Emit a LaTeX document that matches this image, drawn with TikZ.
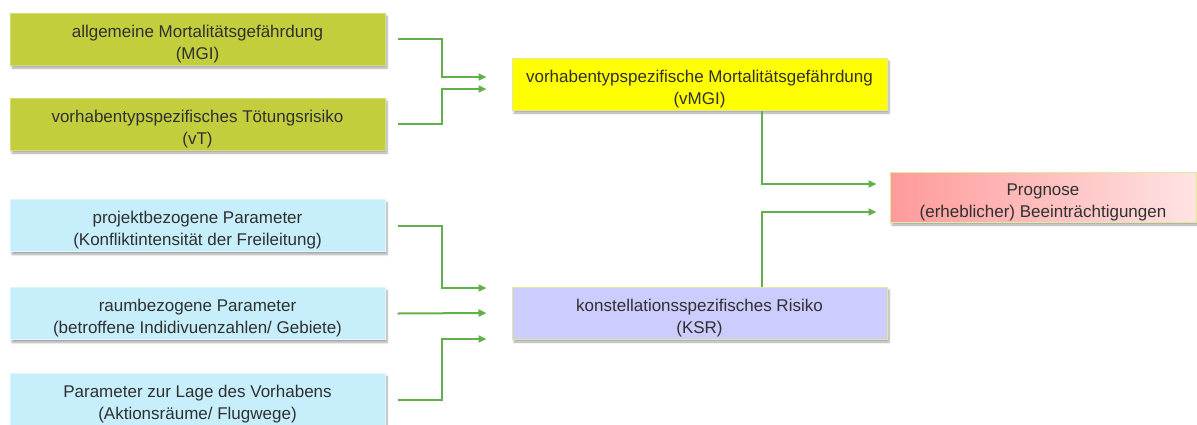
\documentclass[tikz,border=0pt]{standalone}
\usepackage{fontspec}
\setmainfont{Liberation Sans}
\usetikzlibrary{arrows.meta, shadows.blur}
\definecolor{mgiGreen}{HTML}{C3CE3D}
\definecolor{mgiEdge}{HTML}{D3DC78}
\definecolor{paramBlue}{HTML}{C6EEFB}
\definecolor{paramEdge}{HTML}{DDF6FD}
\definecolor{vmgiYellow}{HTML}{FFFF00}
\definecolor{ksrLilac}{HTML}{CCCCFF}
\definecolor{progRed}{HTML}{FF9A9A}
\definecolor{progPink}{HTML}{FFE3E3}
\definecolor{boxEdge}{HTML}{E2E99A}
\definecolor{linkGreen}{HTML}{62B04A}
\definecolor{txtGray}{HTML}{303030}

\tikzset{
    box/.style={rectangle, minimum width=375pt, minimum height=52pt,
        align=center, text=txtGray, line width=1pt, inner ysep=0pt,
        font=\fontsize{17}{22}\selectfont,
        execute at begin node={\rule{0pt}{44pt}},
        blur shadow={shadow xshift=2pt, shadow yshift=-3pt, shadow blur steps=6, shadow opacity=35}},
    factor/.style={box, fill=mgiGreen, draw=mgiEdge},
    param/.style={box, fill=paramBlue, draw=paramEdge},
    link/.style={draw=linkGreen, line width=2pt, -{Triangle[length=8pt,width=7pt]}}
}

\begin{document}
\begin{tikzpicture}[x=1pt, y=-1pt]
    \useasboundingbox (0,0) rectangle (1197,424);

    % inputs
    \node[factor] (mgi) at (197.5,39) {allgemeine Mortalitätsgefährdung\\(MGI)};
    \node[factor] (vt) at (197.5,124) {vorhabentypspezifisches Tötungsrisiko\\(vT)};

    \node[param] (proj) at (197.5,225.5) {projektbezogene Parameter\\(Konfliktintensität der Freileitung)};
    \node[param] (raum) at (197.5,313.5) {raumbezogene Parameter\\(betroffene Indidivuenzahlen/ Gebiete)};
    \node[param] (lage) at (197.5,399.5) {Parameter zur Lage des Vorhabens\\(Aktionsräume/ Flugwege)};

    % intermediate results
    \node[box, fill=vmgiYellow, draw=boxEdge] (vmgi) at (699.5,84) {vorhabentypspezifische Mortalitätsgefährdung\\(vMGI)};
    \node[box, fill=ksrLilac, draw=boxEdge] (ksr) at (699.5,313) {konstellationsspezifisches Risiko\\(KSR)};

    % final
    \node[box, minimum width=306pt, minimum height=50pt, left color=progRed, right color=progPink, draw=boxEdge] (prog) at (1043,197) {Prognose\\(erheblicher) Beeinträchtigungen};

    \draw[link] ([xshift=12pt]mgi.east) -| ([xshift=-70pt,yshift=7pt]vmgi.west) -- ([xshift=-25pt,yshift=7pt]vmgi.west);
    \draw[link] ([xshift=12pt]vt.east) -| ([xshift=-70pt,yshift=-5pt]vmgi.west) -- ([xshift=-25pt,yshift=-5pt]vmgi.west);

    \draw[link] ([xshift=12pt]proj.east) -| ([xshift=-70pt,yshift=25pt]ksr.west) -- ([xshift=-25pt,yshift=25pt]ksr.west);
    \draw[link] ([xshift=12pt]raum.east) -- ([xshift=-25pt]ksr.west);
    \draw[link] ([xshift=12pt]lage.east) -| ([xshift=-70pt,yshift=-26pt]ksr.west) -- ([xshift=-25pt,yshift=-26pt]ksr.west);

    \draw[link] ([xshift=62pt]vmgi.south) |- ([xshift=-13pt,yshift=13pt]prog.west);
    \draw[link] ([xshift=62pt]ksr.north) |- ([xshift=-13pt,yshift=-15pt]prog.west);
\end{tikzpicture}
\end{document}
